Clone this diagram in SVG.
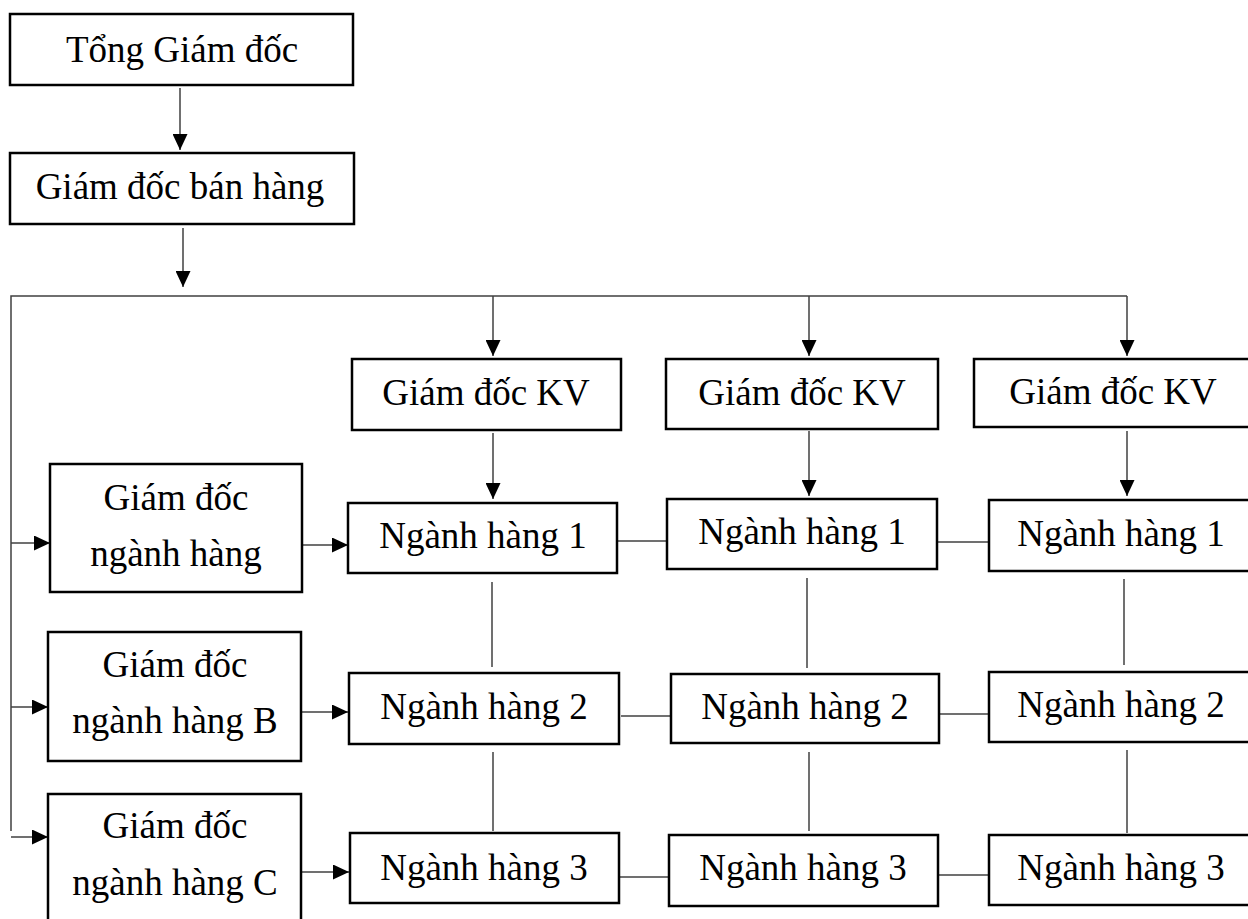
<svg xmlns="http://www.w3.org/2000/svg" width="1248" height="919" viewBox="0 0 1248 919">
<style>
.box{fill:#fff;stroke:#000;stroke-width:2.5}
.t{font-family:"Liberation Serif","Times New Roman",serif;font-size:37px;fill:#000;text-anchor:middle}
.ln{fill:none;stroke:#404040;stroke-width:1.5}
.ar{fill:none;stroke:#404040;stroke-width:1.5;marker-end:url(#ah)}
</style>
<defs>
<marker id="ah" markerUnits="userSpaceOnUse" markerWidth="16" markerHeight="15" viewBox="0 0 16 15" refX="16" refY="7.5" orient="auto">
<path d="M0,0 L16,7.5 L0,15 Z" fill="#000"/>
</marker>
</defs>
<rect width="1248" height="919" fill="#fff"/>
<g id="connectors">
<line class="ar" x1="180" y1="88" x2="180" y2="150"/>
<line class="ar" x1="183" y1="228" x2="183" y2="287"/>
<polyline class="ln" points="11,831 11,296 1127,296"/>
<line class="ar" x1="493" y1="296" x2="493" y2="356"/>
<line class="ar" x1="809" y1="296" x2="809" y2="356"/>
<line class="ar" x1="1127" y1="296" x2="1127" y2="356"/>
<line class="ar" x1="493" y1="433" x2="493" y2="499"/>
<line class="ar" x1="809" y1="431" x2="809" y2="496"/>
<line class="ar" x1="1127" y1="431" x2="1127" y2="496"/>
<line class="ar" x1="11" y1="543" x2="50" y2="543"/>
<line class="ar" x1="11" y1="707" x2="48" y2="707"/>
<line class="ar" x1="11" y1="837" x2="48" y2="837"/>
<line class="ar" x1="302" y1="545" x2="348" y2="545"/>
<line class="ar" x1="301" y1="712" x2="348" y2="712"/>
<line class="ar" x1="301" y1="872" x2="349" y2="872"/>
<line class="ln" x1="617" y1="541" x2="667" y2="541"/>
<line class="ln" x1="937" y1="542" x2="989" y2="542"/>
<line class="ln" x1="621" y1="716" x2="671" y2="716"/>
<line class="ln" x1="939" y1="714" x2="989" y2="714"/>
<line class="ln" x1="620" y1="877" x2="669" y2="877"/>
<line class="ln" x1="938" y1="875" x2="989" y2="875"/>
<line class="ln" x1="492" y1="582" x2="492" y2="667"/>
<line class="ln" x1="493" y1="752" x2="493" y2="831"/>
<line class="ln" x1="807" y1="578" x2="807" y2="668"/>
<line class="ln" x1="809" y1="752" x2="809" y2="831"/>
<line class="ln" x1="1124" y1="579" x2="1124" y2="665"/>
<line class="ln" x1="1127" y1="750" x2="1127" y2="833"/>
</g>
<g id="tong-giam-doc"><rect class="box" x="10" y="14" width="343" height="71"/><text class="t" x="182" y="62">Tổng Giám đốc</text></g>
<g id="gd-ban-hang"><rect class="box" x="10" y="153" width="344" height="71"/><text class="t" x="180" y="199">Giám đốc bán hàng</text></g>
<g id="kv1"><rect class="box" x="352" y="359" width="269" height="71"/><text class="t" x="486" y="405">Giám đốc KV</text></g>
<g id="kv2"><rect class="box" x="666" y="359" width="272" height="70"/><text class="t" x="802" y="405">Giám đốc KV</text></g>
<g id="kv3"><rect class="box" x="974" y="359" width="280" height="68"/><text class="t" x="1113" y="404">Giám đốc KV</text></g>
<g id="gd-nganh-hang"><rect class="box" x="50" y="464" width="252" height="128"/><text class="t" x="176" y="510">Giám đốc</text><text class="t" x="176" y="566">ngành hàng</text></g>
<g id="gd-nganh-hang-b"><rect class="box" x="48" y="632" width="253" height="129"/><text class="t" x="175" y="677">Giám đốc</text><text class="t" x="175" y="733">ngành hàng B</text></g>
<g id="gd-nganh-hang-c"><rect class="box" x="48" y="794" width="253" height="135"/><text class="t" x="175" y="838">Giám đốc</text><text class="t" x="175" y="895">ngành hàng C</text></g>
<g id="nh1-1"><rect class="box" x="348" y="503" width="269" height="70"/><text class="t" x="483" y="548">Ngành hàng 1</text></g>
<g id="nh1-2"><rect class="box" x="667" y="499" width="270" height="70"/><text class="t" x="802" y="544">Ngành hàng 1</text></g>
<g id="nh1-3"><rect class="box" x="989" y="500" width="265" height="71"/><text class="t" x="1121" y="546">Ngành hàng 1</text></g>
<g id="nh2-1"><rect class="box" x="349" y="673" width="270" height="71"/><text class="t" x="484" y="719">Ngành hàng 2</text></g>
<g id="nh2-2"><rect class="box" x="671" y="674" width="268" height="69"/><text class="t" x="805" y="719">Ngành hàng 2</text></g>
<g id="nh2-3"><rect class="box" x="989" y="672" width="265" height="70"/><text class="t" x="1121" y="717">Ngành hàng 2</text></g>
<g id="nh3-1"><rect class="box" x="350" y="833" width="269" height="70"/><text class="t" x="484" y="880">Ngành hàng 3</text></g>
<g id="nh3-2"><rect class="box" x="669" y="835" width="269" height="71"/><text class="t" x="803" y="880">Ngành hàng 3</text></g>
<g id="nh3-3"><rect class="box" x="989" y="835" width="265" height="70"/><text class="t" x="1121" y="880">Ngành hàng 3</text></g>
</svg>
